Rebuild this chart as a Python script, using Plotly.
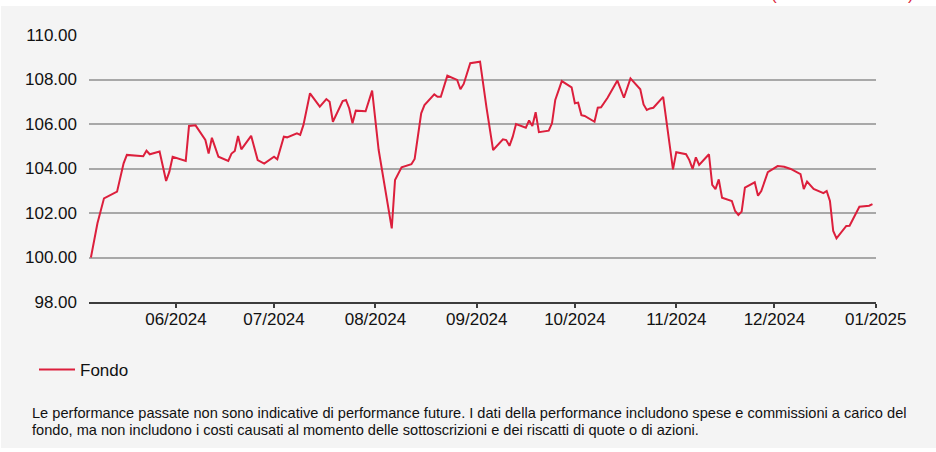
import plotly.graph_objects as go

dates = [
    "2024-05-06", "2024-05-08", "2024-05-10", "2024-05-13", "2024-05-14", "2024-05-16", "2024-05-17",
    "2024-05-22", "2024-05-23", "2024-05-24", "2024-05-27", "2024-05-29", "2024-05-30", "2024-05-31",
    "2024-06-04", "2024-06-05", "2024-06-07", "2024-06-10", "2024-06-11", "2024-06-12", "2024-06-14",
    "2024-06-17", "2024-06-18", "2024-06-19", "2024-06-20", "2024-06-21", "2024-06-24", "2024-06-26",
    "2024-06-28", "2024-07-01", "2024-07-02", "2024-07-04", "2024-07-05", "2024-07-08", "2024-07-09",
    "2024-07-10", "2024-07-12", "2024-07-15", "2024-07-17", "2024-07-18", "2024-07-19", "2024-07-22",
    "2024-07-23", "2024-07-24", "2024-07-25", "2024-07-26", "2024-07-29", "2024-07-31", "2024-08-02",
    "2024-08-06", "2024-08-07", "2024-08-09", "2024-08-12", "2024-08-13", "2024-08-14", "2024-08-15",
    "2024-08-16", "2024-08-19", "2024-08-20", "2024-08-21", "2024-08-23", "2024-08-26", "2024-08-27",
    "2024-08-28", "2024-08-30", "2024-09-02", "2024-09-04", "2024-09-06", "2024-09-09", "2024-09-10",
    "2024-09-11", "2024-09-12", "2024-09-13", "2024-09-16", "2024-09-17", "2024-09-18", "2024-09-19",
    "2024-09-20", "2024-09-23", "2024-09-24", "2024-09-25", "2024-09-27", "2024-09-30", "2024-10-01",
    "2024-10-02", "2024-10-03", "2024-10-04", "2024-10-07", "2024-10-08", "2024-10-09", "2024-10-11",
    "2024-10-14", "2024-10-16", "2024-10-18", "2024-10-21", "2024-10-22", "2024-10-23", "2024-10-24",
    "2024-10-25", "2024-10-28", "2024-10-31", "2024-11-01", "2024-11-04", "2024-11-05", "2024-11-06",
    "2024-11-07", "2024-11-08", "2024-11-11", "2024-11-12", "2024-11-13", "2024-11-14", "2024-11-15",
    "2024-11-18", "2024-11-19", "2024-11-20", "2024-11-21", "2024-11-22", "2024-11-25", "2024-11-26",
    "2024-11-27", "2024-11-29", "2024-12-02", "2024-12-04", "2024-12-06", "2024-12-09", "2024-12-10",
    "2024-12-11", "2024-12-13", "2024-12-16", "2024-12-17", "2024-12-18", "2024-12-19", "2024-12-20",
    "2024-12-23", "2024-12-24", "2024-12-27", "2024-12-30", "2024-12-31",
]

fondo = [
    100.00, 101.54, 102.66, 102.89, 102.96, 104.23, 104.61,
    104.55, 104.80, 104.64, 104.76, 103.44, 103.86, 104.53,
    104.34, 105.91, 105.94, 105.28, 104.67, 105.38, 104.53,
    104.34, 104.67, 104.79, 105.46, 104.86, 105.47, 104.38,
    104.22, 104.53, 104.41, 105.43, 105.40, 105.58, 105.51,
    105.96, 107.38, 106.78, 107.12, 107.00, 106.10, 107.03,
    107.08, 106.70, 106.03, 106.60, 106.57, 107.50, 104.83,
    101.31, 103.48, 104.05, 104.19, 104.43, 105.58, 106.48,
    106.85, 107.33, 107.22, 107.22, 108.17, 107.98, 107.56,
    107.80, 108.73, 108.80, 106.71, 104.83, 105.31, 105.28,
    105.02, 105.43, 106.00, 105.83, 106.16, 105.91, 106.53,
    105.63, 105.70, 106.03, 107.08, 107.93, 107.65, 106.93,
    106.96, 106.40, 106.36, 106.10, 106.73, 106.75, 107.18,
    107.95, 107.18, 108.05, 107.56, 106.88, 106.63, 106.70,
    106.73, 107.22, 103.96, 104.73, 104.64, 104.38, 103.98,
    104.50, 104.16, 104.64, 103.26, 103.07, 103.51, 102.69,
    102.54, 102.09, 101.91, 102.06, 103.14, 103.38, 102.78,
    102.99, 103.83, 104.11, 104.08, 103.98, 103.75, 103.08,
    103.41, 103.08, 102.89, 102.99, 102.54, 101.19, 100.86,
    101.42, 101.43, 102.28, 102.33, 102.40,
]

tick_dates = ["2024-06-01", "2024-07-01", "2024-08-01", "2024-09-01", "2024-10-01",
              "2024-11-01", "2024-12-01", "2025-01-01"]
tick_labels = ["06/2024", "07/2024", "08/2024", "09/2024", "10/2024",
               "11/2024", "12/2024", "01/2025"]
y_ticks = [98, 100, 102, 104, 106, 108, 110]

footnote_lines = [
    "Le performance passate non sono indicative di performance future. I dati della performance "
    "includono spese e commissioni a carico del",
    "fondo, ma non includono i costi causati al momento delle sottoscrizioni e dei riscatti di quote o di azioni.",
]

RED = "#dc1f3c"
BG = "#f4f4f4"
FONT = "Liberation Sans, Arial, sans-serif"

fig = go.Figure()
fig.add_trace(go.Scatter(x=dates, y=fondo, mode="lines", name="Fondo",
                         line=dict(color=RED, width=2)))

W, H = 936, 452
ml, mr, mt, mb = 89, 60, 35, 150
pw, ph = W - ml - mr, H - mt - mb


def px_x(p):
    return (p - ml) / pw


def px_y(p):
    return (H - mb - p) / ph


fig.add_shape(type="rect", xref="paper", yref="paper",
              x0=px_x(1), x1=px_x(W + 5), y0=px_y(448), y1=px_y(6),
              fillcolor=BG, line=dict(width=0), layer="below")

annotations = []
for line, yc in zip(footnote_lines, [413, 430]):
    annotations.append(dict(text=line, xref="paper", yref="paper", x=px_x(30), y=px_y(yc),
                            xanchor="left", yanchor="middle", align="left", showarrow=False,
                            font=dict(size=14.6, color="#111111")))
annotations += [
    dict(text="(", xref="paper", yref="paper", x=px_x(774), y=px_y(6),
         xanchor="center", yanchor="bottom", showarrow=False,
         font=dict(size=17, color=RED)),
    dict(text=")", xref="paper", yref="paper", x=px_x(911), y=px_y(6),
         xanchor="center", yanchor="bottom", showarrow=False,
         font=dict(size=17, color=RED)),
]

fig.update_layout(
    width=W, height=H,
    margin=dict(l=ml, r=mr, t=mt, b=mb),
    paper_bgcolor="white", plot_bgcolor=BG,
    font=dict(family=FONT, size=17, color="#111111"),
    showlegend=True,
    legend=dict(x=px_x(34), y=px_y(352), xanchor="left", yanchor="top",
                itemwidth=36,
                bgcolor="rgba(0,0,0,0)", font=dict(size=17, color="#111111")),
    xaxis=dict(type="date", range=["2024-05-05 10:00", "2025-01-01 02:00"],
               tickmode="array", tickvals=tick_dates, ticktext=tick_labels,
               showgrid=False, showline=True, linecolor="#3c3c3c", linewidth=1.5,
               ticks="outside", ticklen=4, tickcolor="#3c3c3c", tickwidth=1.5,
               ticklabelstandoff=-3,
               tickfont=dict(size=17, color="#111111"), zeroline=False),
    yaxis=dict(range=[98, 110], tickmode="array", tickvals=y_ticks,
               tickformat=".2f", showgrid=True, gridcolor="#a8a8a8", gridwidth=1.5,
               zeroline=False, showline=False, ticks="", ticklabelstandoff=11,
               tickfont=dict(size=17, color="#111111")),
    annotations=annotations,
)

fig.write_html("out.html", config={"displayModeBar": False},
               post_script="document.body.style.margin='0px';")
